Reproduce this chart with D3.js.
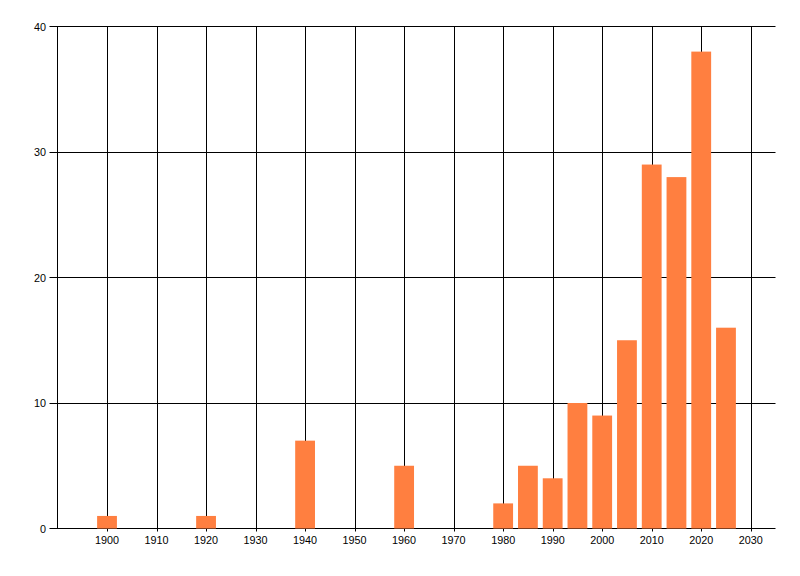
<!DOCTYPE html>
<html>
  <head>
    <script src="https://d3js.org/d3.v7.min.js"></script>
    <style>
      body { margin: 0; background: #fff; }
      text { font-family: "Liberation Sans", sans-serif; font-size: 10.8px; fill: #000; }
    </style>
  </head>
  <body>
    <script>
      // chart data
      var years  = [1900, 1920, 1940, 1960, 1980, 1985, 1990, 1995, 2000, 2005, 2010, 2015, 2020, 2025];
      var counts = [1, 1, 7, 5, 2, 5, 4, 10, 9, 15, 29, 28, 38, 16];
      var xTicks = [1900, 1910, 1920, 1930, 1940, 1950, 1960, 1970, 1980, 1990, 2000, 2010, 2020, 2030];
      var yTicks = [0, 10, 20, 30, 40];

      var width = 800, height = 576;
      var plotLeft = 57.5, plotRight = 775.5, plotTop = 26.5, plotBottom = 528.5;

      var svg = d3.select("body").append("svg")
                  .attr("width", width).attr("height", height);

      var x = d3.scaleLinear().domain([1890, 2035]).range([plotLeft, plotRight]);
      var y = d3.scaleLinear().domain([0, 40]).range([plotBottom, plotTop]);

      // vertical gridlines + tick marks
      svg.selectAll("line.vgrid")
         .data(xTicks)
         .enter().append("line")
         .attr("class", "vgrid")
         .attr("x1", function(d) { return Math.round(x(d)) + 0.5; })
         .attr("x2", function(d) { return Math.round(x(d)) + 0.5; })
         .attr("y1", plotTop)
         .attr("y2", plotBottom + 3)
         .attr("stroke", "#000");

      // horizontal gridlines + tick marks
      svg.selectAll("line.hgrid")
         .data(yTicks)
         .enter().append("line")
         .attr("class", "hgrid")
         .attr("x1", plotLeft - 8)
         .attr("x2", plotRight)
         .attr("y1", function(d) { return Math.round(y(d) - 0.5) + 0.5; })
         .attr("y2", function(d) { return Math.round(y(d) - 0.5) + 0.5; })
         .attr("stroke", "#000");

      // left axis line
      svg.append("line")
         .attr("x1", plotLeft).attr("x2", plotLeft)
         .attr("y1", plotTop).attr("y2", plotBottom)
         .attr("stroke", "#000");

      // bars
      var bw = x(1904) - x(1900);
      svg.selectAll("rect.bar")
         .data(years)
         .enter().append("rect")
         .attr("class", "bar")
         .attr("x", function(d) { return x(d) - bw / 2; })
         .attr("width", bw)
         .attr("y", function(d, i) { return y(counts[i]); })
         .attr("height", function(d, i) { return y(0) - y(counts[i]); })
         .attr("fill", "#ff7f40");

      // x labels
      svg.selectAll("text.xl")
         .data(xTicks)
         .enter().append("text")
         .attr("class", "xl")
         .attr("x", function(d) { return x(d); })
         .attr("y", 544)
         .attr("text-anchor", "middle")
         .text(function(d) { return d; });

      // y labels
      svg.selectAll("text.yl")
         .data(yTicks)
         .enter().append("text")
         .attr("class", "yl")
         .attr("x", 46)
         .attr("y", function(d) { return y(d) + 4; })
         .attr("text-anchor", "end")
         .text(function(d) { return d; });
    </script>
  </body>
</html>
